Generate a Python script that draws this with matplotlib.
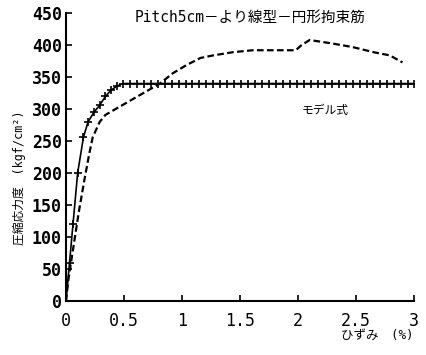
import matplotlib

matplotlib.use("Agg")
import matplotlib.pyplot as plt

plt.rcParams["font.family"] = ["DejaVu Sans Mono", "Noto Sans CJK JP"]

# model curve (+ markers)
model_x = [0.0, 0.03, 0.06, 0.1, 0.15, 0.19, 0.24, 0.29, 0.34, 0.39, 0.44, 0.49]
model_y = [0, 60, 120, 200, 256, 280, 295, 306, 320, 330, 336, 340]
plateau_x = [0.55, 0.61, 0.67, 0.73, 0.79, 0.85, 0.91, 0.97, 1.03, 1.09, 1.15,
             1.21, 1.27, 1.33, 1.39, 1.45, 1.51, 1.57, 1.63, 1.69, 1.75, 1.81,
             1.87, 1.93, 1.99, 2.05, 2.11, 2.17, 2.23, 2.29, 2.35, 2.41, 2.47,
             2.53, 2.59, 2.65, 2.71, 2.77, 2.83, 2.89, 2.95, 3.0]
plateau_y = [340] * len(plateau_x)

# experiment curve (dashed)
exp_x = [0.0, 0.02, 0.07, 0.11, 0.155, 0.2, 0.23, 0.29, 0.34, 0.81, 0.92,
         1.04, 1.16, 1.27, 1.44, 1.61, 1.84, 1.98, 2.03, 2.1, 2.28, 2.47,
         2.65, 2.79, 2.9]
exp_y = [0, 33, 92, 139, 186, 230, 256, 280, 291, 340, 356,
         369, 380, 384, 389, 392, 392, 392, 400, 408, 403, 397,
         389, 384, 373]

fig = plt.figure(figsize=(4.26, 3.55), dpi=100)
ax = fig.add_axes([0.155, 0.152, 0.817, 0.811])

ax.plot(model_x + plateau_x, model_y + plateau_y, color="black", lw=1.2,
        marker="+", markersize=5.5, markeredgewidth=1.2)
ax.plot(exp_x, exp_y, color="black", lw=1.6, ls=(0, (3, 1.5)))

ax.set_xlim(0, 3)
ax.set_ylim(0, 450)
ax.set_xticks([0, 0.5, 1, 1.5, 2, 2.5, 3])
ax.set_xticklabels(["0", "0.5", "1", "1.5", "2", "2.5", "3"])
ax.set_yticks(range(0, 451, 50))
ax.spines["top"].set_visible(False)
ax.spines["right"].set_visible(False)
ax.spines["left"].set_linewidth(1.5)
ax.spines["bottom"].set_linewidth(1.5)
ax.tick_params(direction="in", length=4, width=1.2, labelsize=12)
ax.tick_params(axis="x", pad=8)
ax.tick_params(axis="y", pad=3)
for lab in ax.get_yticklabels():
    lab.set_fontweight("bold")

ax.text(0.53, 0.985, "Pitch5cm－より線型－円形拘束筋", transform=ax.transAxes,
        ha="center", va="center", fontsize=10.5)
ax.text(2.23, 298, "モデル式", ha="center", va="center", fontsize=8.5)

fig.text(0.045, 0.5, "圧縮応力度　(kgf/cm²)", rotation=90, ha="center",
         va="center", fontsize=8.5)
fig.text(0.885, 0.055, "ひずみ　(%)", ha="center", va="center", fontsize=9)

fig.savefig("out.png", dpi=100)
